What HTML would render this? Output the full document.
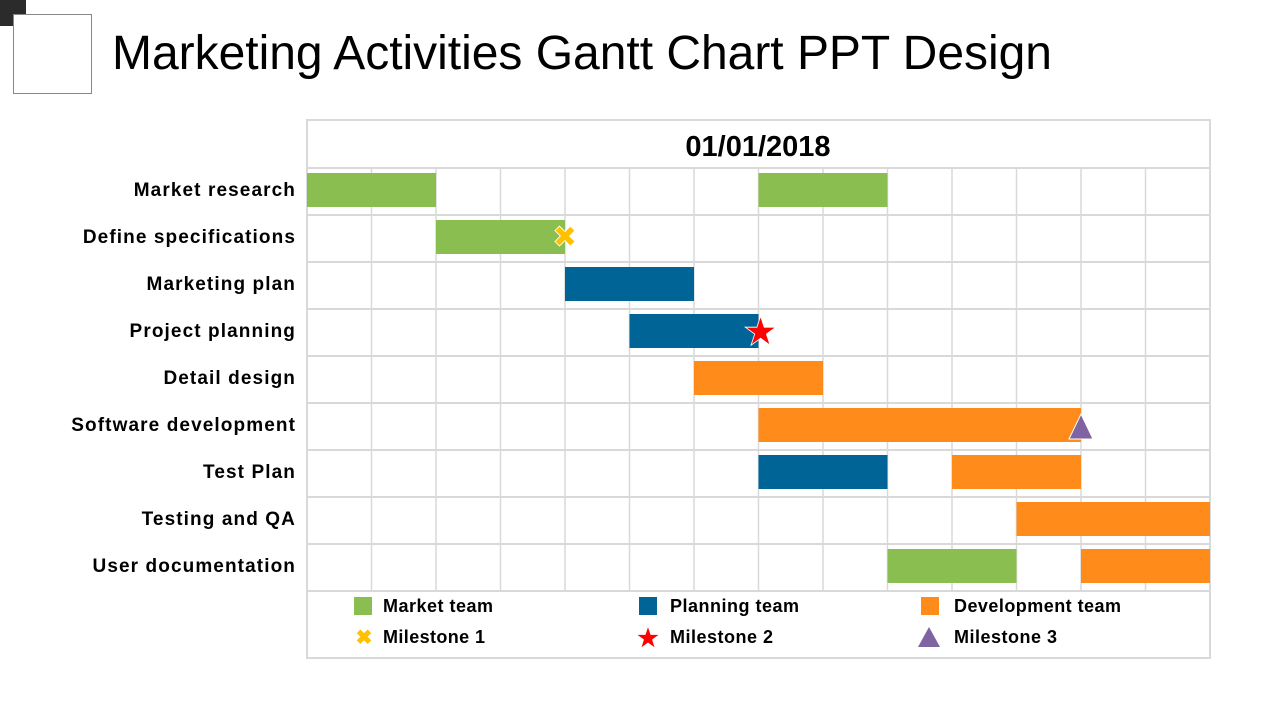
<!DOCTYPE html>
<html><head><meta charset="utf-8"><style>
body{margin:0;width:1280px;height:720px;background:#fff;overflow:hidden;font-family:"Liberation Sans",sans-serif}
</style></head><body>
<svg id="chart" width="1280" height="720" style="position:absolute;left:0;top:0">
<rect x="0" y="0" width="26" height="26" fill="#2b2b2b"/>
<rect x="13.5" y="14.5" width="78" height="79" fill="#fff" stroke="#888" stroke-width="1"/>
<text x="112" y="69" font-size="48" textLength="940" fill="#000">Marketing Activities Gantt Chart PPT Design</text>
<rect x="307" y="120" width="903" height="538" fill="none" stroke="#d9d9d9" stroke-width="2"/>
<text x="758" y="156" font-size="29" font-weight="bold" text-anchor="middle">01/01/2018</text>
<g id="grid"></g><g id="bars"></g><g id="labels"></g><g id="marks"></g>
<g id="legend" font-size="18" font-weight="bold">
<rect x="354" y="597" width="18" height="18" fill="#8bbe50"/>
<text x="383" y="612" textLength="110">Market team</text>
<rect x="639" y="597" width="18" height="18" fill="#006496"/>
<text x="670" y="612" textLength="129">Planning team</text>
<rect x="921" y="597" width="18" height="18" fill="#ff8c1a"/>
<text x="954" y="612" textLength="167">Development team</text>
<text x="364" y="644" font-size="20" fill="#ffc000" text-anchor="middle">✖</text>
<text x="383" y="643" textLength="102">Milestone 1</text>
<text x="648" y="646" font-size="24" fill="#ff0000" text-anchor="middle">★</text>
<text x="670" y="643" textLength="103">Milestone 2</text>
<polygon points="929,627 940,647 918,647" fill="#8064a2"/>
<text x="954" y="643" textLength="103">Milestone 3</text>
</g>
</svg>
<script>
const tasks=["Market research","Define specifications","Marketing plan","Project planning","Detail design","Software development","Test Plan","Testing and QA","User documentation"];
const segStart=[0,7,2,4,5,6,7,7,10,11,9,12];
const segEnd=[2,9,4,6,7,8,12,9,12,14,11,14];
const segTask=[0,0,1,2,3,4,5,6,6,7,8,8];
const segTeam=["m","m","m","p","p","d","d","p","d","d","m","d"];
const msPos=[4,7,12];
const msTask=[1,3,5];
const nCols=14;
const colors={m:"#8bbe50",p:"#006496",d:"#ff8c1a"};
const X0=307,X1=1210,Y0=168,RH=47;
const xs=v=>X0+v*(X1-X0)/nCols;
const ys=i=>Y0+i*RH;
const NS="http://www.w3.org/2000/svg";
function mk(t,a,p){const e=document.createElementNS(NS,t);for(const k in a)e.setAttribute(k,a[k]);document.getElementById(p).appendChild(e);return e;}
for(let c=1;c<nCols;c++){const l=mk("line",{x1:xs(c),x2:xs(c),y1:Y0,y2:ys(tasks.length),stroke:"#d9d9d9","stroke-width":1.5},"grid");

}
for(let r=0;r<=tasks.length;r++){const l=mk("line",{x1:X0,x2:X1,y1:ys(r),y2:ys(r),stroke:"#d9d9d9","stroke-width":2},"grid");

}
tasks.forEach((t,i)=>{const e=mk("text",{x:296,y:ys(i)+28,"font-size":19,"font-weight":"bold","text-anchor":"end","letter-spacing":"1.1"},"labels");e.textContent=t;

});
segStart.forEach((s,i)=>{const b=mk("rect",{x:xs(s),y:ys(segTask[i])+5,width:xs(segEnd[i])-xs(s),height:34,fill:colors[segTeam[i]]},"bars");

});
(function(){
let x=xs(msPos[0]),y=ys(msTask[0])+22;
const m1=mk("text",{x:x,y:y+10,"font-size":30,fill:"#ffc000","text-anchor":"middle",stroke:"#fff","stroke-width":0.8},"marks");m1.textContent="✖";


x=xs(msPos[1]);y=ys(msTask[1])+22;
const m2=mk("text",{x:x+2,y:y+14,"font-size":40,fill:"#ff0000","text-anchor":"middle",stroke:"#fff","stroke-width":0.8},"marks");m2.textContent="★";


x=xs(msPos[2]);y=ys(msTask[2])+24;
const m3=mk("polygon",{points:`${x},${y-13} ${x+12},${y+12} ${x-12},${y+12}`,fill:"#8064a2",stroke:"#fff","stroke-width":1},"marks");


})();
</script>
</body></html>
